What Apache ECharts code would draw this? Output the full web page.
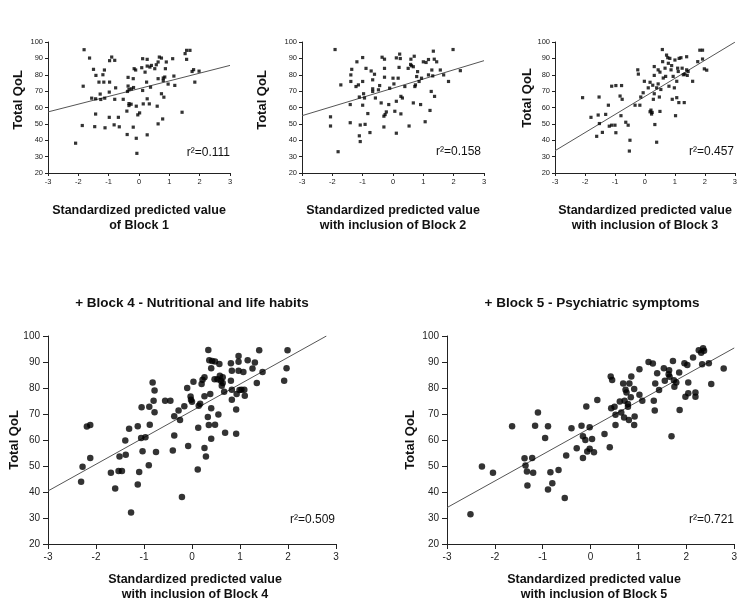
<!DOCTYPE html>
<html>
<head>
<meta charset="utf-8">
<script src="https://cdn.jsdelivr.net/npm/echarts@6/dist/echarts.min.js"></script>
<style>html,body{margin:0;padding:0;background:#fff}#c{width:740px;height:606px}</style>
</head>
<body>
<div id="c"></div>
<script>
// ---------------- data ----------------
const block1 = [[-1.81,95.3],[-1.63,90.2],[-1.5,83.3],[-1.42,79.6],[-1.14,82.9],[-1.19,80],[-1.32,75.5],[-1.16,75.5],[-1.84,73],[-1.56,65.7],[-1.43,65.3],[-1.26,64.9],[-1.28,68.2],[-1.13,65.7],[-1.43,56],[-1.46,48.3],[-1.87,49],[-2.09,38.2],[-1.12,47.6],[-0.97,88.6],[-0.9,90.8],[-0.8,88.8],[-0.97,75.5],[-0.77,72],[-0.98,69.4],[-0.8,65],[-0.98,54],[-0.82,49.4],[-0.68,54],[-0.65,48.2],[-0.52,65],[-0.4,57.8],[-0.39,43.5],[-0.36,78.4],[-0.36,73.1],[-0.33,71],[-0.38,69.8],[-0.25,71.4],[-0.33,62.4],[-0.26,62],[-0.33,61.2],[-0.19,77.6],[-0.16,83.7],[-0.11,82.9],[-0.18,72.2],[-0.19,48],[-0.09,41.2],[-0.07,32],[-0.09,60.8],[-0.04,55.5],[0.02,56.7],[0.12,89.8],[0.09,84.3],[0.2,81.6],[0.25,75.5],[0.12,70.4],[0.14,62.2],[0.27,89.4],[0.27,85.3],[0.36,84.7],[0.41,85.7],[0.38,72.4],[0.27,65.3],[0.34,62.2],[0.27,43.3],[0.52,83.7],[0.57,86.1],[0.63,87.8],[0.67,90.8],[0.74,90.2],[0.63,77.6],[0.74,68.4],[0.6,60.8],[0.63,50],[0.78,53],[0.8,78],[0.85,78.6],[0.8,76.5],[0.87,83.7],[0.9,87.8],[0.82,66.3],[0.96,74.3],[1.11,89.8],[1.15,79.2],[1.18,73.5],[1.42,57.1],[1.52,92.9],[1.57,94.9],[1.68,94.9],[1.57,89.4],[1.75,82],[1.8,83.1],[1.84,75.5],[1.98,82.2]];
const block2 = [[-1.91,95.4],[-1.81,33],[-2.06,48.7],[-2.06,54.3],[-1.72,73.8],[-1.41,50.7],[-1.41,61.8],[-1.39,75.9],[-1.39,79.9],[-1.36,83.3],[-1.22,72.8],[-1.19,87.9],[-1.14,73.8],[-1.11,66.4],[-1.11,42.7],[-1.08,39.2],[-1.08,49.3],[-1.0,90.5],[-1.0,75.9],[-1.0,61.4],[-0.97,68.4],[-0.94,65.8],[-0.92,49.7],[-0.89,83.9],[-0.83,56.3],[-0.76,44.7],[-0.72,82.3],[-0.67,76.9],[-0.67,71.4],[-0.67,69.8],[-0.61,80.3],[-0.58,65.8],[-0.48,70.8],[-0.44,73.4],[-0.39,62.8],[-0.36,90.7],[-0.28,89.5],[-0.28,83.9],[-0.28,78.5],[-0.3,54.7],[-0.26,55.7],[-0.3,48.1],[-0.22,57.3],[-0.11,71.8],[-0.14,61.8],[0,77.9],[0.03,74.4],[0.06,57.7],[0.11,44.3],[0.11,63.8],[0.11,90.3],[0.17,77.9],[0.2,84.5],[0.22,92.6],[0.24,89.9],[0.26,66.8],[0.26,56.1],[0.31,65.8],[0.39,72.8],[0.5,83.9],[0.53,48.7],[0.58,86.3],[0.59,89.5],[0.61,85.5],[0.67,62.8],[0.67,84.9],[0.7,91.3],[0.72,72.8],[0.74,73.8],[0.78,78.9],[0.81,81.9],[0.86,75.9],[0.91,61.8],[0.94,77.9],[1.0,87.9],[1.06,51.3],[1.09,87.5],[1.17,89.3],[1.17,79.9],[1.22,58.2],[1.26,69.8],[1.28,82.9],[1.31,79.3],[1.33,94.4],[1.36,89.5],[1.37,66.8],[1.44,87.9],[1.56,82.9],[1.67,79.9],[1.83,75.9],[1.98,95.4],[2.22,82.5]];
const block3 = [[-2.08,66],[-1.8,54],[-1.61,42.4],[-1.53,66.4],[-1.56,55.4],[-1.52,50.2],[-1.42,44.8],[-1.31,55.8],[-1.22,61.4],[-1.19,48.6],[-1.11,49.2],[-1.11,73],[-0.97,73.4],[-1.0,49.2],[-0.97,44.6],[-0.83,67],[-0.76,65],[-0.8,55],[-0.78,73.4],[-0.64,51],[-0.5,40],[-0.56,49.2],[-0.52,33.4],[-0.33,61.4],[-0.24,83],[-0.22,80.4],[-0.17,61.4],[-0.14,66.4],[-0.02,76],[-0.06,69],[0.11,72],[0.17,75.4],[0.17,57.4],[0.2,58.4],[0.22,56],[0.24,57],[0.26,73.6],[0.28,65],[0.31,79.6],[0.31,85],[0.31,68.4],[0.33,49.6],[0.39,38.8],[0.39,72],[0.44,83],[0.44,74.4],[0.48,66.4],[0.5,81.6],[0.5,57.6],[0.53,71],[0.58,95.4],[0.59,88],[0.61,78],[0.67,84],[0.69,79],[0.72,92],[0.76,90.4],[0.78,87],[0.8,73],[0.83,90],[0.87,83],[0.89,85.6],[0.91,65],[0.94,79],[0.98,72],[1.0,89],[1.02,55],[1.06,76],[1.06,66],[1.09,84],[1.11,82],[1.13,63],[1.14,90],[1.2,90.4],[1.24,84],[1.28,80],[1.31,63],[1.33,80.4],[1.39,91],[1.39,83],[1.41,79.6],[1.44,82],[1.59,76],[1.76,88],[1.83,95],[1.92,95],[1.92,89.6],[1.98,83.6],[2.06,82.8]];
const block4 = [[-2.31,43.9],[-2.28,49.7],[-2.19,65.2],[-2.12,65.8],[-2.12,53.1],[-1.69,47.4],[-1.6,41.3],[-1.53,48.1],[-1.51,53.7],[-1.46,48.1],[-1.39,59.8],[-1.38,54.3],[-1.31,64.3],[-1.27,32.1],[-1.13,65.3],[-1.13,42.9],[-1.1,47.7],[-1.06,60.8],[-1.05,72.6],[-1.03,55.7],[-0.97,61.1],[-0.9,50.3],[-0.89,72.8],[-0.88,65.9],[-0.82,82.1],[-0.78,79],[-0.8,75.1],[-0.78,70.7],[-0.75,55.4],[-0.56,75.1],[-0.45,75.1],[-0.37,69.1],[-0.37,61.7],[-0.4,56],[-0.28,71.3],[-0.25,67.7],[-0.21,38.1],[-0.16,73],[-0.1,80],[-0.08,57.7],[-0.03,76.7],[-0.02,75.5],[0,74.7],[0.03,82.4],[0.12,48.7],[0.13,64.7],[0.14,73.2],[0.17,73.9],[0.2,81.5],[0.22,83.2],[0.26,76.8],[0.26,84.1],[0.26,56.9],[0.29,53.7],[0.33,68.8],[0.34,94.6],[0.35,65.8],[0.36,90.7],[0.38,77.7],[0.4,72.2],[0.4,60.5],[0.4,87.6],[0.42,90.4],[0.47,83.4],[0.48,90.2],[0.48,65.9],[0.53,83.4],[0.55,69.8],[0.57,89.2],[0.58,84.7],[0.6,82.8],[0.62,80.9],[0.64,81.9],[0.64,84.1],[0.67,78.6],[0.69,62.8],[0.81,89.5],[0.83,86.6],[0.81,82.8],[0.83,79.3],[0.83,75.5],[0.92,62.4],[0.92,71.7],[0.93,77.7],[0.97,92.3],[0.97,90.1],[0.97,86.6],[0.99,79.2],[1.03,79.3],[1.07,86.2],[1.09,79.3],[1.1,77],[1.16,90.7],[1.26,87.5],[1.31,89.8],[1.35,81.9],[1.4,94.5],[1.47,86.2],[1.92,82.8],[1.97,87.6],[1.99,94.5]];
const block5 = [[-2.51,31.4],[-2.27,49.8],[-2.04,47.4],[-1.64,65.3],[-1.38,53],[-1.36,50.2],[-1.33,47.9],[-1.32,42.5],[-1.22,53.1],[-1.2,47.4],[-1.16,65.5],[-1.1,70.6],[-0.95,60.8],[-0.89,65.3],[-0.89,41],[-0.84,47.6],[-0.8,43.4],[-0.67,48.5],[-0.54,37.7],[-0.51,54],[-0.4,64.5],[-0.29,56.8],[-0.19,65.5],[-0.16,53.1],[-0.16,61.4],[-0.11,60],[-0.09,72.9],[-0.07,55.6],[-0.02,64.9],[-0.02,56.6],[0.03,60.4],[0.07,55.3],[0.14,75.4],[0.29,62.3],[0.4,57.2],[0.42,84.4],[0.45,83.1],[0.43,72.2],[0.5,72.8],[0.52,69.7],[0.52,65.8],[0.61,74.8],[0.64,70.6],[0.68,81.7],[0.71,75.1],[0.73,79.3],[0.75,78.3],[0.7,68.7],[0.78,73.8],[0.78,72.8],[0.8,67.7],[0.81,81.7],[0.84,76.4],[0.85,84.4],[0.91,79.6],[0.91,65.8],[0.92,69],[1.02,87.2],[1.02,77.4],[1.08,75.1],[1.21,90],[1.3,89.4],[1.32,75.1],[1.34,71.3],[1.35,81.7],[1.39,85.7],[1.43,79.2],[1.53,87.6],[1.55,82.8],[1.63,85.3],[1.64,86.8],[1.65,84.3],[1.69,61.4],[1.72,90.4],[1.74,83],[1.75,80.5],[1.79,82.1],[1.85,86],[1.86,71.5],[1.96,89.5],[1.98,76.6],[2.02,88.8],[2.04,82.1],[2.04,78],[2.14,91.7],[2.19,78.3],[2.19,76.6],[2.26,94.5],[2.31,93.6],[2.35,95.3],[2.37,94.3],[2.33,89.1],[2.47,89.5],[2.52,81.5],[2.78,87.5]];

// regression line end points
const fit1 = [[-3,57.3],[3,85.7]];
const fit2 = [[-3,55.0],[3,88.6]];
const fit3 = [[-3,33.6],[3,99.9]];
const fit4 = [[-3,40.4],[2.8,100]];
const fit5 = [[-3,34.0],[3,95.4]];

const r2Labels = ['r\u00b2=0.111','r\u00b2=0.158','r\u00b2=0.457','r\u00b2=0.509','r\u00b2=0.721'];
const xTitles = [
  ['Standardized predicted value','of Block 1'],
  ['Standardized predicted value','with inclusion of Block 2'],
  ['Standardized predicted value','with inclusion of Block 3'],
  ['Standardized predicted value','with inclusion of Block 4'],
  ['Standardized predicted value','with inclusion of Block 5']
];
const panelTitles = ['', '', '', '+ Block 4 - Nutritional and life habits', '+ Block 5 - Psychiatric symptoms'];
const yTitle = 'Total QoL';
const xRange = [-3, 3, 1];
const yRange = [20, 100, 10];

// ---------------- layout ----------------
const FONT = '"Liberation Sans", Arial, Helvetica, sans-serif';
const panels = [
  {grid:{left:48, top:42, width:182, height:131}, data:block1, fit:fit1, small:true,
   yT:[18,100], xT:139, xTy:[211,225.5], r2:[230,153], pt:null},
  {grid:{left:302, top:42, width:182, height:131}, data:block2, fit:fit2, small:true,
   yT:[262,100], xT:393, xTy:[211,225.5], r2:[481,152], pt:null},
  {grid:{left:555, top:42, width:181, height:131}, data:block3, fit:fit3, small:true,
   yT:[527,98], xT:645, xTy:[211,225.5], r2:[734,152], pt:null},
  {grid:{left:48, top:336, width:288, height:208}, data:block4, fit:fit4, small:false,
   yT:[14,440], xT:195, xTy:[580,595], r2:[335,520], pt:[192,303]},
  {grid:{left:447, top:336, width:288, height:208}, data:block5, fit:fit5, small:false,
   yT:[410,440], xT:594, xTy:[580,595], r2:[734,520], pt:[592,303]}
];

const grids=[], xAxes=[], yAxes=[], series=[], graphics=[];
panels.forEach((p,i)=>{
  grids.push(p.grid);
  const fs = p.small ? 7.5 : 10;
  const tl = p.small ? 3 : 5;
  const axisCommon = {
    axisLine:{show:true,onZero:false,lineStyle:{color:'#222',width:1}},
    axisTick:{show:true,inside:false,length:tl,lineStyle:{color:'#222'}},
    splitLine:{show:false},
    axisLabel:{color:'#222',fontSize:fs,fontFamily:FONT,margin:tl+ (p.small?2:3)}
  };
  xAxes.push(Object.assign({type:'value',gridIndex:i,min:xRange[0],max:xRange[1],interval:xRange[2]}, JSON.parse(JSON.stringify(axisCommon))));
  yAxes.push(Object.assign({type:'value',gridIndex:i,min:yRange[0],max:yRange[1],interval:yRange[2]}, JSON.parse(JSON.stringify(axisCommon))));
  series.push({type:'scatter',xAxisIndex:i,yAxisIndex:i,data:p.data,
    symbol:p.small?'rect':'circle',symbolSize:p.small?3.2:6.5,
    itemStyle:{color:'#000'},silent:true,z:3});
  series.push({type:'line',xAxisIndex:i,yAxisIndex:i,data:p.fit,showSymbol:false,symbol:'none',
    lineStyle:{color:'#555',width:1},silent:true,z:2});
  graphics.push({type:'text',x:p.yT[0],y:p.yT[1],rotation:Math.PI/2,
    style:{text:yTitle,align:'center',verticalAlign:'middle',font:'bold 13px '+FONT,fill:'#111'}});
  graphics.push({type:'text',x:p.xT,y:p.xTy[0],
    style:{text:xTitles[i][0],align:'center',verticalAlign:'middle',font:'bold 12.5px '+FONT,fill:'#111'}});
  graphics.push({type:'text',x:p.xT,y:p.xTy[1],
    style:{text:xTitles[i][1],align:'center',verticalAlign:'middle',font:'bold 12.5px '+FONT,fill:'#111'}});
  graphics.push({type:'text',x:p.r2[0],y:p.r2[1],
    style:{text:r2Labels[i],align:'right',verticalAlign:'middle',font:'12px '+FONT,fill:'#111'}});
  if(p.pt){
    graphics.push({type:'text',x:p.pt[0],y:p.pt[1],
      style:{text:panelTitles[i],align:'center',verticalAlign:'middle',font:'bold 13.5px '+FONT,fill:'#111'}});
  }
});

const chart = echarts.init(document.getElementById('c'), null, {renderer:'canvas'});
chart.setOption({
  backgroundColor:'#fff',
  animation:false,
  grid:grids, xAxis:xAxes, yAxis:yAxes, series:series, graphic:graphics
});
</script>
</body>
</html>
